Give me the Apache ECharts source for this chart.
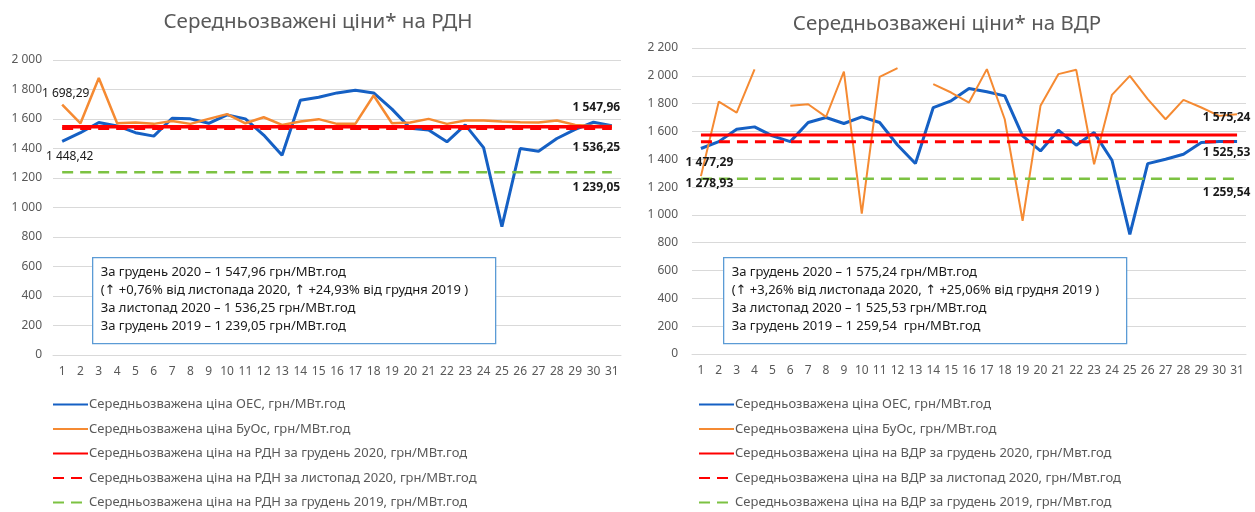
<!DOCTYPE html>
<html><head><meta charset="utf-8">
<script src="https://cdn.jsdelivr.net/npm/echarts@6/dist/echarts.min.js"></script>
<style>html,body{margin:0;padding:0;background:#fff}#c{width:1255px;height:512px}</style>
</head><body><div id="c"></div>
<script>
const days = ['1','2','3','4','5','6','7','8','9','10','11','12','13','14','15','16','17','18','19','20','21','22','23','24','25','26','27','28','29','30','31'];

const rdnTitle = 'Середньозважені ціни* на РДН';
const vdrTitle = 'Середньозважені ціни* на ВДР';

// РДН (left)
const rdnOes  = [1448.42,1507,1576,1553,1507,1484,1605,1601,1571,1628,1601,1491,1354,1727,1747,1777,1795,1777,1667,1537,1525,1445,1560,1406,870,1400,1381,1468,1530,1578,1555];
const rdnBuos = [1698.29,1571,1878,1571,1576,1567,1587,1567,1601,1633,1571,1612,1560,1583,1599,1567,1567,1759,1571,1576,1601,1567,1590,1590,1583,1578,1576,1590,1560,1553,1553];
const rdnDec2020 = 1547.96;
const rdnNov2020 = 1536.25;
const rdnDec2019 = 1239.05;

// ВДР (right)
const vdrOes  = [1477.29,1527,1616,1633,1568,1527,1664,1700,1657,1705,1664,1503,1369,1772,1820,1909,1885,1856,1568,1460,1609,1501,1592,1393,860,1369,1400,1436,1520,1527,1527];
const vdrBuos = [1278.93,1815,1736,2046,null,1784,1796,1705,2031,1009,1993,2055,null,1940,1880,1808,2048,1688,958,1784,2012,2043,1364,1863,2000,1832,1688,1827,1772,1712,1724];
const vdrDec2020 = 1575.24;
const vdrNov2020 = 1525.53;
const vdrDec2019 = 1259.54;

const nameOes  = 'Середньозважена ціна ОЕС, грн/МВт.год';
const nameBuos = 'Середньозважена ціна БуОс, грн/МВт.год';
const rdnNames = ['Середньозважена ціна на РДН за грудень 2020, грн/МВт.год','Середньозважена ціна на РДН за листопад 2020, грн/МВт.год','Середньозважена ціна на РДН за грудень 2019, грн/МВт.год'];
const vdrNames = ['Середньозважена ціна на ВДР за грудень 2020, грн/Мвт.год','Середньозважена ціна на ВДР за листопад 2020, грн/Мвт.год','Середньозважена ціна на ВДР за грудень 2019, грн/Мвт.год'];

const rdnBox = ['За грудень 2020 – 1 547,96 грн/МВт.год','(↑ +0,76% від листопада 2020, ↑ +24,93% від грудня 2019 )','За листопад 2020 – 1 536,25 грн/МВт.год','За грудень 2019 – 1 239,05 грн/МВт.год'];
const vdrBox = ['За грудень 2020 – 1 575,24 грн/МВт.год','(↑ +3,26% від листопада 2020, ↑ +25,06% від грудня 2019 )','За листопад 2020 – 1 525,53 грн/МВт.год','За грудень 2019 – 1 259,54  грн/МВт.год'];

const FONT = '"Noto Sans", "DejaVu Sans", sans-serif';
const BLUE = '#1560c4', ORANGE = '#f58a32', RED = '#ff0000', GREEN = '#7cc242';

function fmt(v) {
  const s = v.toFixed(2).split('.');
  return s[0].replace(/\B(?=(\d{3})+(?!\d))/g, ' ') + ',' + s[1];
}
function thou(v) { return String(v).replace(/\B(?=(\d{3})+(?!\d))/g, ' '); }

function line(name, gi, data, color, width, type, lbl) {
  const s = {
    name, type: 'line', xAxisIndex: gi, yAxisIndex: gi, data,
    symbol: 'circle', symbolSize: 1, showSymbol: true,
    itemStyle: { color: 'rgba(0,0,0,0)' },
    lineStyle: { color, width, type: type === 'dashed' ? [11, 7] : 'solid', cap: 'butt' },
    emphasis: { disabled: true }, silent: true, animation: false
  };
  if (lbl) {
    s.label = {
      show: true,
      formatter: p => (p.dataIndex === lbl.idx ? fmt(p.value) : ''),
      position: lbl.pos, align: 'center', verticalAlign: 'middle',
      fontSize: 12, fontFamily: FONT, fontWeight: lbl.bold ? 'bold' : 'normal', color: '#1a1a1a'
    };
  }
  return s;
}
const flat = v => days.map(() => v);

const chart = echarts.init(document.getElementById('c'), null, { renderer: 'canvas' });

function axisPair(gi, max) {
  return {
    x: { type: 'category', gridIndex: gi, data: days, boundaryGap: true,
         axisLine: { lineStyle: { color: '#d9d9d9' } }, axisTick: { show: false },
         axisLabel: { color: '#595959', fontSize: 12, fontFamily: FONT, margin: 11, interval: 0 } },
    y: { type: 'value', gridIndex: gi, min: 0, max, interval: 200,
         axisLine: { show: false }, axisTick: { show: false },
         splitLine: { lineStyle: { color: '#d9d9d9', width: 1 } },
         axisLabel: { color: '#595959', fontSize: 12, fontFamily: FONT, margin: gi === 0 ? 11 : 14, formatter: thou } }
  };
}
const a0 = axisPair(0, 2000), a1 = axisPair(1, 2200);

function box(x, y, w, h, lines) {
  return {
    type: 'group', left: x, top: y, silent: true, z: 100,
    children: [
      { type: 'rect', z: 100, shape: { x: 0, y: 0, width: w, height: h }, style: { fill: '#ffffff', stroke: '#5b9bd5', lineWidth: 1.3 } },
      { type: 'text', z: 101, x: 8, y: 6, style: { text: lines.join('\n'), font: '13px ' + FONT, fill: '#1a1a1a', lineHeight: 18 } }
    ]
  };
}

const legendCommon = {
  orient: 'vertical', itemWidth: 35, itemHeight: 14, itemGap: 11.5, selectedMode: false, padding: 0,
  textStyle: { color: '#595959', fontSize: 13, fontFamily: FONT, padding: [0, 0, 0, -4] }
};

chart.setOption({
  animation: false,
  backgroundColor: '#fff',
  title: [
    { text: rdnTitle, left: 313, top: 7, textAlign: 'center', textStyle: { fontSize: 20.5, fontWeight: 'normal', color: '#595959', fontFamily: FONT } },
    { text: vdrTitle, left: 942, top: 9, textAlign: 'center', textStyle: { fontSize: 20.5, fontWeight: 'normal', color: '#595959', fontFamily: FONT } }
  ],
  grid: [
    { left: 53, right: 634, top: 60, bottom: 157 },
    { left: 692, right: 9, top: 48, bottom: 158 }
  ],
  xAxis: [a0.x, a1.x],
  yAxis: [a0.y, a1.y],
  legend: [
    Object.assign({ left: 52, top: 398, data: [nameOes, nameBuos].concat(rdnNames) }, legendCommon),
    Object.assign({ left: 698, top: 398, data: [nameOes, nameBuos].concat(vdrNames) }, legendCommon)
  ],
  series: [
    line(nameOes, 0, rdnOes, BLUE, 3, 'solid', { idx: 0, pos: [8, 16] }),
    line(nameBuos, 0, rdnBuos, ORANGE, 2.5, 'solid', { idx: 0, pos: [4, -10] }),
    line(rdnNames[0], 0, flat(rdnDec2020), RED, 3.5, 'solid', { idx: 30, pos: [-15, -19], bold: true }),
    line(rdnNames[1], 0, flat(rdnNov2020), RED, 3, 'dashed', { idx: 30, pos: [-15, 20], bold: true }),
    line(rdnNames[2], 0, flat(rdnDec2019), GREEN, 2.5, 'dashed', { idx: 30, pos: [-15, 16], bold: true }),
    line(nameOes, 1, vdrOes, BLUE, 3, 'solid', { idx: 0, pos: [9, 15], bold: true }),
    line(nameBuos, 1, vdrBuos, ORANGE, 2, 'solid', { idx: 0, pos: [9, 8], bold: true }),
    line(vdrNames[0], 1, flat(vdrDec2020), RED, 3, 'solid', { idx: 30, pos: [-10, -17], bold: true }),
    line(vdrNames[1], 1, flat(vdrNov2020), RED, 3, 'dashed', { idx: 30, pos: [-10, 11], bold: true }),
    line(vdrNames[2], 1, flat(vdrDec2019), GREEN, 2.5, 'dashed', { idx: 30, pos: [-10, 14], bold: true })
  ],
  graphic: [
    box(92, 257, 403, 86, rdnBox),
    box(723, 257, 403, 86, vdrBox)
  ]
});
</script>
</body></html>
